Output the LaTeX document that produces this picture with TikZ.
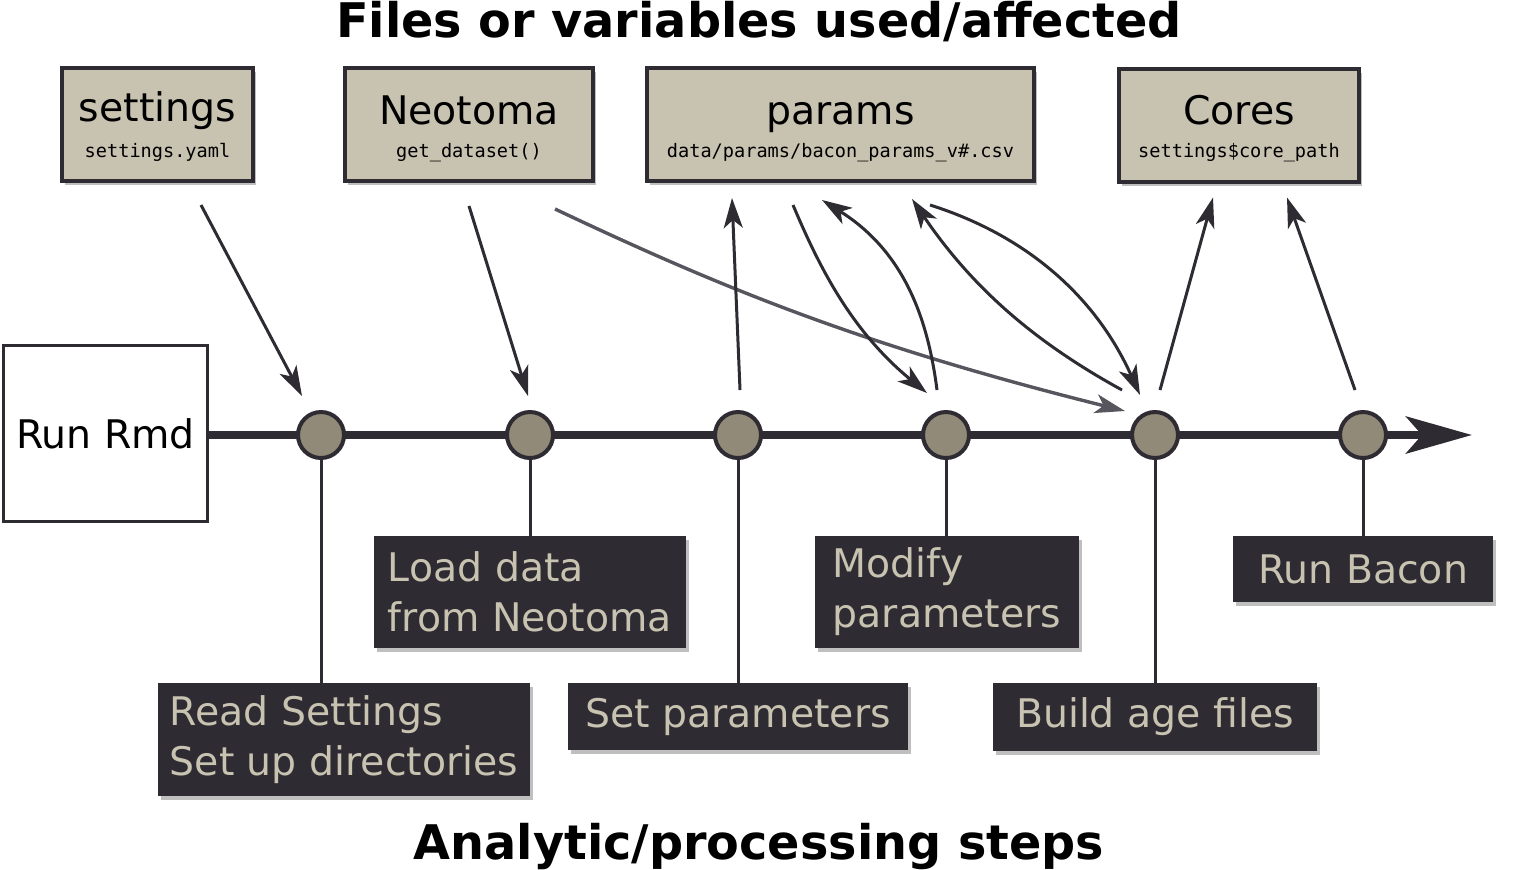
\documentclass[tikz,border=0pt]{standalone}
\usepackage{fontspec}
\setmainfont{DejaVu Sans}
\newfontfamily\monof{DejaVu Sans Mono}
\usetikzlibrary{arrows.meta,shadows,calc}
\pgfdeclarelayer{background}
\pgfsetlayers{background,main}
\definecolor{dk}{HTML}{2E2B33}
\definecolor{beige}{HTML}{C8C2B0}
\definecolor{dotc}{HTML}{918A78}
\definecolor{greyc}{HTML}{57555D}
\newcommand\labf{\fontsize{19.7pt}{25pt}\selectfont}
\newcommand\codef{\monof\fontsize{9.3pt}{11pt}\selectfont}
\newcommand\titlef{\bfseries\fontsize{23.85pt}{28pt}\selectfont}
\begin{document}
\begin{tikzpicture}[x=0.5pt,y=-0.5pt,
  shadowed/.style={drop shadow={shadow xshift=1.5pt, shadow yshift=-2pt, fill=black, opacity=0.25}},
  filebox/.style={draw=dk, line width=2pt, fill=beige, inner sep=0pt, shadowed},
  stepbox/.style={fill=dk, text=beige, font=\labf, align=left, inner sep=0pt, shadowed},
  dot/.style={circle, draw=dk, line width=2pt, fill=dotc, minimum size=23pt, inner sep=0pt},
  namelab/.style={anchor=base, font=\labf, text=black},
  codelab/.style={anchor=base, font=\codef, text=black},
  tip/.style={-{Stealth[length=15pt,width=9.5pt,inset=4pt]}},
  conn/.style={draw=dk, line width=1.5pt, tip},
  conng/.style={draw=greyc, line width=1.7pt, tip},
  stem/.style={draw=dk, line width=1.5pt},
  tline/.style={draw=dk, line width=4pt, -{Stealth[length=33pt,width=18.5pt,inset=8pt]}},
  heading/.style={anchor=base, font=\titlef, text=black}]
\useasboundingbox (0,0) rectangle (1518,869);

% titles
\node[heading] (toptitle) at (759,37) {Files or variables used/affected};
\node[heading] (bottitle) at (759,859) {Analytic/processing steps};

% file boxes
\node[filebox, minimum width=95.5pt, minimum height=56.5pt] (settingsbox) at (157.5,124.5) {};
\node[filebox, minimum width=124pt, minimum height=56.5pt] (neotomabox) at (469,124.5) {};
\node[filebox, minimum width=193.5pt, minimum height=56.5pt] (paramsbox) at (840.5,124.5) {};
\node[filebox, minimum width=120pt, minimum height=56.5pt] (coresbox) at (1239,125) {};

\node[namelab] (settingsname) at (157.5,121) {settings};
\node[codelab] (settingscode) at (157.5,157) {settings.yaml};
\node[namelab] (neotomaname) at (469,124) {Neotoma};
\node[codelab] (neotomacode) at (469,157) {get\_dataset()};
\node[namelab] (paramsname) at (840.5,124) {params};
\node[codelab] (paramscode) at (840.5,157) {data/params/bacon\_params\_v\#.csv};
\node[namelab] (coresname) at (1239,124) {Cores};
\node[codelab] (corescode) at (1239,157) {settings\$core\_path};

% run box
\node[draw=dk, line width=1.5pt, fill=white, minimum width=102pt, minimum height=88pt, inner sep=0pt, font=\labf] (rmd) at (105.5,433.5) {Run Rmd};

% dots
\node[dot] (c1) at (321,435) {};
\node[dot] (c2) at (530,435) {};
\node[dot] (c3) at (738,435) {};
\node[dot] (c4) at (946,435) {};
\node[dot] (c5) at (1155,435) {};
\node[dot] (c6) at (1363,435) {};
\coordinate (tlend) at (1472,435);

% step boxes
\node[stepbox, minimum width=186pt, minimum height=56.5pt] (readstep) at (344,739.5) {Read Settings\\Set up directories};
\node[stepbox, minimum width=156pt, minimum height=56pt] (loadstep) at (530,592) {Load data\\from Neotoma};
\node[stepbox, minimum width=170pt, minimum height=33.5pt] (setstep) at (738,716.5) {Set parameters};
\node[stepbox, minimum width=132pt, minimum height=56pt] (modstep) at (947,592) {Modify\\parameters};
\node[stepbox, minimum width=162pt, minimum height=34pt] (buildstep) at (1155,717) {Build age files};
\node[stepbox, minimum width=130pt, minimum height=33pt] (baconstep) at (1363,569) {Run Bacon};

\begin{pgfonlayer}{background}
  \draw[tline] (rmd.east |- c1.center) -- (tlend);
  \foreach \c/\s in {c1/readstep, c2/loadstep, c3/setstep, c4/modstep, c5/buildstep, c6/baconstep}
    \draw[stem] (\c.center) -- (\c.center |- \s.north);
\end{pgfonlayer}

% grey connector (under the dark ones)
\draw[conng] ([shift={(86,26)}]neotomabox.south) .. controls +(165,78) and +(-265,-66) .. ([shift={(-30,-24)}]c5.center);

% connectors
\draw[conn] ([shift={(43.5,22)}]settingsbox.south) -- ([shift={(-19,-39)}]c1.center);
\draw[conn] ([shift={(0,23)}]neotomabox.south) -- ([shift={(-2,-39)}]c2.center);
\draw[conn] ([shift={(2,-45)}]c3.center) -- ([shift={(-108.5,15)}]paramsbox.south);
\draw[conn] ([shift={(-47.5,22)}]paramsbox.south) .. controls +(25,59) and +(-77,-63) .. ([shift={(-19,-42)}]c4.center);
\draw[conn] ([shift={(-9,-45)}]c4.center) .. controls +(-9,-70) and +(83,52) .. ([shift={(-18.5,17)}]paramsbox.south);
\draw[conn] ([shift={(-33,-45)}]c5.center) .. controls +(-82,-45) and +(63,93) .. ([shift={(71.5,16)}]paramsbox.south);
\draw[conn] ([shift={(89.5,22)}]paramsbox.south) .. controls +(95,30) and +(-45,-100) .. ([shift={(-15,-40)}]c5.center);
\draw[conn] ([shift={(5,-45)}]c5.center) -- ([shift={(-26,14)}]coresbox.south);
\draw[conn] ([shift={(-8,-45)}]c6.center) -- ([shift={(48,14)}]coresbox.south);
\end{tikzpicture}
\end{document}
